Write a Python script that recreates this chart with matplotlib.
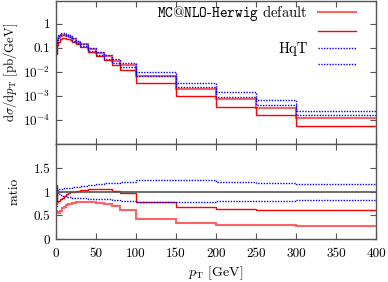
import numpy as np
import matplotlib
matplotlib.use("Agg")
import matplotlib.pyplot as plt
from matplotlib.lines import Line2D

plt.rcParams['font.family'] = 'serif'
plt.rcParams['font.serif'] = ['cmr10']
plt.rcParams['mathtext.fontset'] = 'cm'
plt.rcParams['axes.formatter.use_mathtext'] = True

# bin edges in pT [GeV]
edges = [0, 1, 2.5, 5, 7.5, 10, 12.5, 15, 17.5, 20, 25, 30, 40, 50, 60, 70, 80,
         100, 150, 200, 250, 300, 400]

# dsigma/dpT [pb/GeV]
mcnlo_upper = [0.10, 0.174, 0.264, 0.319, 0.343, 0.34, 0.323, 0.30, 0.277, 0.232,
               0.185, 0.14, 0.093, 0.064, 0.045, 0.029, 0.0194, 0.0065, 0.0020,
               0.00074, 0.00033, 0.000122]
mcnlo_lower = [0.054, 0.128, 0.185, 0.228, 0.254, 0.255, 0.245, 0.229, 0.21, 0.177,
               0.14, 0.105, 0.068, 0.046, 0.031, 0.0196, 0.0124, 0.0035, 0.00096,
               0.00035, 0.00016, 0.000056]
hqt_upper = [0.097, 0.231, 0.35, 0.407, 0.417, 0.40, 0.367, 0.338, 0.305, 0.253,
             0.20, 0.15, 0.10, 0.070, 0.050, 0.034, 0.0244, 0.0103, 0.0036,
             0.0014, 0.00065, 0.00023]
hqt_lower = [0.063, 0.213, 0.31, 0.353, 0.355, 0.337, 0.306, 0.279, 0.249, 0.202,
             0.158, 0.116, 0.075, 0.051, 0.035, 0.023, 0.0162, 0.0065, 0.0023,
             0.00093, 0.00044, 0.000164]

# ratios
ratio_red_upper = [1.15, 0.79, 0.80, 0.84, 0.88, 0.92, 0.95, 0.97, 0.99, 1.01, 1.03,
                   1.05, 1.07, 1.07, 1.06, 1.03, 0.97, 0.79, 0.69, 0.64, 0.62, 0.61]
ratio_red_lower = [0.60, 0.58, 0.56, 0.60, 0.65, 0.69, 0.72, 0.74, 0.75, 0.77, 0.78,
                   0.79, 0.78, 0.76, 0.74, 0.70, 0.62, 0.43, 0.33, 0.30, 0.30, 0.28]
ratio_hqt_upper = [1.08, 1.05, 1.06, 1.07, 1.07, 1.08, 1.08, 1.09, 1.09, 1.10, 1.11,
                   1.13, 1.15, 1.17, 1.19, 1.20, 1.22, 1.255, 1.255, 1.22, 1.20, 1.16]
ratio_hqt_lower = [0.70, 0.97, 0.95, 0.93, 0.92, 0.91, 0.90, 0.90, 0.89, 0.88, 0.88,
                   0.87, 0.86, 0.85, 0.84, 0.83, 0.81, 0.79, 0.79, 0.81, 0.81, 0.82]

light_red = '#ff6262'
frame_col = '#555555'
fs = 9.5
dots = (0, (1, 1))

fig = plt.figure(figsize=(3.88, 2.82), dpi=100)
ax1 = fig.add_axes([56/388, 1 - 144/282, 320/388, 143/282])
ax2 = fig.add_axes([56/388, 1 - 239/282, 320/388, 95/282], sharex=ax1)

# upper panel
ax1.stairs(mcnlo_upper, edges, color=light_red, lw=1.5, baseline=None)
ax1.stairs(mcnlo_lower, edges, color='red', lw=1.0, baseline=None)
ax1.stairs(hqt_upper, edges, color='blue', lw=1.0, ls=dots, baseline=None)
ax1.stairs(hqt_lower, edges, color='blue', lw=1.0, ls=dots, baseline=None)
ax1.set_yscale('log')
ax1.set_ylim(1e-5, 9)
ax1.set_xlim(0, 400)
ax1.set_yticks([1e-4, 1e-3, 1e-2, 0.1, 1])
ax1.set_yticklabels([r'$10^{-4}$', r'$10^{-3}$', r'$10^{-2}$', '0.1', '1'])
ax1.yaxis.set_minor_locator(matplotlib.ticker.NullLocator())
ax1.set_ylabel(r'$\mathrm{d}\sigma/\mathrm{d}p_\mathrm{T}$ [pb/GeV]', fontsize=9.2)
ax1.yaxis.set_label_coords(-0.113, 0.5)
plt.setp(ax1.get_xticklabels(), visible=False)

handles = [Line2D([], [], color=light_red, lw=1.5),
           Line2D([], [], color='red', lw=1.0),
           Line2D([], [], color='blue', lw=1.0, ls=dots),
           Line2D([], [], color='blue', lw=1.0, ls=dots)]
labels = [r'$\mathtt{MC@NLO}$-$\mathtt{Herwig}$ default', ' ', 'HqT', ' ']
ax1.legend(handles, labels, loc='upper right', bbox_to_anchor=(1 - 14/320, 1.025),
           borderaxespad=0, frameon=False, markerfirst=False,
           prop={'size': 10.5}, handlelength=2.6, labelspacing=0.16,
           handletextpad=0.7)

# lower panel
ax2.axhline(1, color=frame_col, lw=1.2)
ax2.stairs(ratio_red_upper, edges, color='red', lw=1.0, baseline=None)
ax2.stairs(ratio_red_lower, edges, color=light_red, lw=1.5, baseline=None)
ax2.stairs(ratio_hqt_upper, edges, color='blue', lw=1.0, ls=dots, baseline=None)
ax2.stairs(ratio_hqt_lower, edges, color='blue', lw=1.0, ls=dots, baseline=None)
ax2.set_ylim(0, 2.02)
ax2.set_yticks([0, 0.5, 1, 1.5])
ax2.set_yticklabels(['0', '0.5', '1', '1.5'])
ax2.set_xticks(np.arange(0, 401, 50))
ax2.set_xticklabels([str(v) for v in range(0, 401, 50)])
ax2.set_ylabel('ratio', fontsize=fs)
ax2.yaxis.set_label_coords(-0.109, 0.5)
ax2.set_xlabel(r'$p_\mathrm{T}$ [GeV]', fontsize=10, labelpad=3)

for ax in (ax1, ax2):
    for sp in ax.spines.values():
        sp.set_color(frame_col)
        sp.set_linewidth(1.0)
    ax.tick_params(which='both', direction='in', top=True, right=True,
                   length=4, width=0.8, color=frame_col, labelsize=fs, pad=4)
ax2.tick_params(axis='x', pad=6.5)

fig.savefig('out.png', dpi=100)
